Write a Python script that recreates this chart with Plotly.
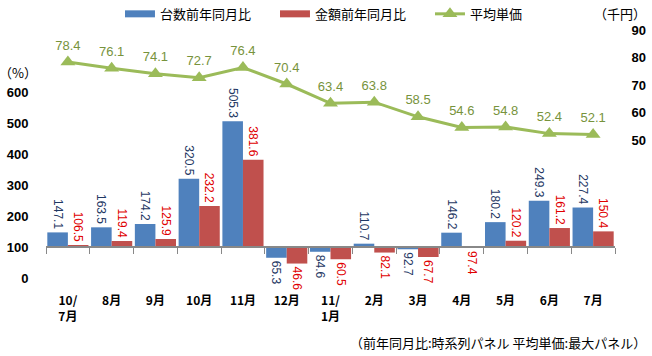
import plotly.graph_objects as go
import numpy as np

categories = ["10/<br>7月", "8月", "9月", "10月", "11月", "12月", "11/<br>1月",
              "2月", "3月", "4月", "5月", "6月", "7月"]
units_yoy = [147.1, 163.5, 174.2, 320.5, 505.3, 65.3, 84.6, 110.7, 92.7, 146.2, 180.2, 249.3, 227.4]
amount_yoy = [106.5, 119.4, 125.9, 232.2, 381.6, 46.6, 60.5, 82.1, 67.7, 97.4, 120.2, 161.2, 150.4]
avg_price = [78.4, 76.1, 74.1, 72.7, 76.4, 70.4, 63.4, 63.8, 58.5, 54.6, 54.8, 52.4, 52.1]
left_ticks = [0, 100, 200, 300, 400, 500, 600]
right_ticks = [50, 60, 70, 80, 90]
BASE = 100

JP = "Noto Sans CJK JP"
NUM = "Liberation Sans Narrow, Liberation Sans, sans-serif"
CLEAR = "rgba(0,0,0,0)"
BLUE, RED, GREEN = "#4F81BD", "#C0504D", "#9BBB59"

fig = go.Figure()
fig.add_trace(go.Bar(
    name="台数前年同月比", x=categories, y=[v - BASE for v in units_yoy], base=BASE,
    marker=dict(color=BLUE, line=dict(width=0)), showlegend=False,
    text=[f"{v:.1f}" for v in units_yoy], textposition="outside", textangle=90,
    textfont=dict(family=NUM, size=12, color="#1F3864"), constraintext="none",
    cliponaxis=False, hoverinfo="skip"))
fig.add_trace(go.Bar(
    name="金額前年同月比", x=categories, y=[v - BASE for v in amount_yoy], base=BASE,
    marker=dict(color=RED, line=dict(width=0)), showlegend=False,
    text=[f"{v:.1f}" for v in amount_yoy], textposition="outside", textangle=90,
    textfont=dict(family=NUM, size=12, color="#E00000"), constraintext="none",
    cliponaxis=False, hoverinfo="skip"))
# legend swatches (wide rectangles like the reference)
fig.add_trace(go.Scatter(name="台数前年同月比", x=[None], y=[None], mode="lines",
                         line=dict(color=BLUE, width=7), hoverinfo="skip"))
fig.add_trace(go.Scatter(name="金額前年同月比", x=[None], y=[None], mode="lines",
                         line=dict(color=RED, width=7), hoverinfo="skip"))
fig.add_trace(go.Scatter(
    name="平均単価", x=categories, y=avg_price, yaxis="y2", mode="lines+markers+text",
    line=dict(color=GREEN, width=3), marker=dict(symbol="triangle-up", size=13, color=GREEN),
    text=[f"{v:.1f}" for v in avg_price], textposition="top center",
    textfont=dict(family=NUM, size=13, color="#77933C"), cliponaxis=False, hoverinfo="skip"))
# dummy trace to render baseline axis at 100
fig.add_trace(go.Scatter(x=[-0.5, 12.5], y=[None, None], xaxis="x2", showlegend=False,
                         hoverinfo="skip", mode="lines"))

n = len(categories)
fig.update_layout(
    width=652, height=356,
    margin=dict(l=46, r=37, t=30, b=78, autoexpand=False),
    plot_bgcolor="white", paper_bgcolor="white",
    barmode="group", bargap=0.06, bargroupgap=0,
    font=dict(family=JP, size=12, color="black"),
    xaxis=dict(type="category", range=[-0.5, n - 0.5], showline=False, showgrid=False,
               ticks="outside", ticklen=12, tickcolor=CLEAR,
               tickfont=dict(family=JP, size=12, color="black", weight="bold"),
               fixedrange=True),
    xaxis2=dict(overlaying="x", anchor="free", position=BASE / 800, range=[-0.5, n - 0.5],
                tickmode="array", tickvals=list(np.arange(-0.5, n, 1.0)),
                ticks="outside", ticklen=6, tickcolor="#888888", showline=True,
                linecolor="#888888", linewidth=1.5, showticklabels=False, showgrid=False,
                zeroline=False),
    yaxis=dict(range=[0, 800], tickmode="array", tickvals=left_ticks, showgrid=False,
               zeroline=False, showline=False, ticks="outside", ticklen=14, tickcolor=CLEAR,
               tickfont=dict(family=NUM, size=13, color="black", weight="bold")),
    yaxis2=dict(range=[0, 90], overlaying="y", side="right", tickmode="array",
                tickvals=right_ticks, showgrid=False, zeroline=False, showline=False,
                ticks="outside", ticklen=13, tickcolor=CLEAR,
                tickfont=dict(family=NUM, size=13, color="black", weight="bold")),
    legend=dict(orientation="h", x=0.13, y=1.065, xanchor="left", yanchor="middle",
                font=dict(family=JP, size=13, color="black"), bgcolor=CLEAR,
                entrywidth=110, entrywidthmode="pixels", itemwidth=30),
    showlegend=True,
    annotations=[
        dict(text="（%）", xref="paper", yref="paper", x=-0.086, y=0.83, showarrow=False,
             xanchor="left", yanchor="middle", font=dict(family=JP, size=13, color="black")),
        dict(text="（千円）", xref="paper", yref="paper", x=1.058, y=1.065, showarrow=False,
             xanchor="right", yanchor="middle", font=dict(family=JP, size=13, color="black")),
        dict(text="（前年同月比:時系列パネル 平均単価:最大パネル）", xref="paper", yref="paper",
             x=1.058, y=-0.26, showarrow=False, xanchor="right", yanchor="middle",
             font=dict(family=JP, size=13, color="black")),
    ],
)

fig.write_html("out.html", config={"displayModeBar": False},
               post_script="document.body.style.margin='0';")
